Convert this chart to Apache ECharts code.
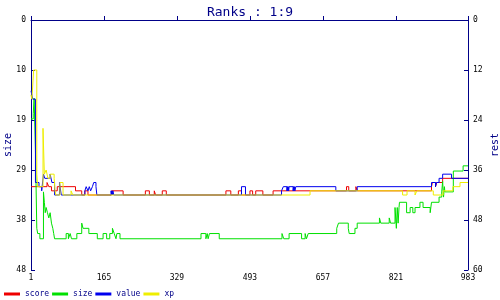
<!DOCTYPE html>
<html><head><meta charset="utf-8">
<script src="https://cdn.jsdelivr.net/npm/echarts@6/dist/echarts.min.js"></script>
<style>html,body{margin:0;padding:0;background:#fff}#c{width:500px;height:300px}</style>
</head><body><div id="c"></div>
<script>
const titleText = 'Ranks : 1:9';
const seriesNames = ['score', 'size', 'value', 'xp'];
const xTicks = [1, 165, 329, 493, 657, 821, 983];
const leftName = 'size';
const rightName = 'rest';

// step data: [x, value] change points (value holds until next point)
const score = [[1,40],[37,39],[41,40],[47,41],[60,40],[101,41],[115,42],[122,41],[129,42],[182,41],[208,42],[258,41],[267,42],[278,41],[281,42],[296,41],[305,42],[439,41],[450,42],[467,41],[474,42],[493,41],[499,42],[506,41],[522,42],[545,41],[710,40],[715,41],[731,40],[734,41],[901,40],[903,39],[910,40],[913,39],[926,38],[983,38]];
const size = [[1,19],[6,18],[8,15],[11,25],[14,40],[16,41],[21,42],[29,33],[31,35],[33,37],[35,36],[38,37],[41,38],[44,37],[47,39],[50,40],[52,41],[54,42],[80,41],[85,42],[89,41],[92,42],[104,41],[115,39],[118,40],[131,41],[150,42],[163,41],[171,42],[178,41],[184,40],[188,41],[192,42],[194,41],[201,42],[383,41],[394,42],[397,41],[399,42],[402,41],[424,42],[565,41],[569,42],[581,41],[609,42],[617,41],[620,42],[624,41],[688,40],[692,39],[714,40],[716,41],[729,40],[734,39],[784,38],[787,39],[806,38],[809,39],[819,36],[822,40],[824,36],[826,39],[828,36],[829,35],[845,37],[853,36],[859,37],[864,36],[875,35],[882,36],[898,37],[901,35],[918,34],[924,33],[926,31],[928,34],[930,32],[931,33],[950,29],[972,28],[983,28]];
const value = [[1,17],[5,19],[11,39],[19,40],[25,41],[29,37],[32,38],[44,37],[48,39],[54,42],[65,39],[69,42],[122,41],[125,40],[129,41],[132,40],[135,41],[139,40],[142,39],[147,40],[149,42],[181,41],[182,42],[183,41],[184,42],[185,41],[187,42],[474,40],[483,42],[564,41],[568,40],[576,41],[577,40],[578,41],[579,40],[580,41],[581,40],[590,41],[591,40],[592,41],[593,40],[594,41],[596,40],[686,41],[734,40],[901,39],[910,40],[912,39],[918,38],[926,37],[946,38],[983,38]];
const xp = [[1,18],[3,19],[7,12],[14,37],[16,40],[28,26],[31,37],[35,36],[39,38],[44,37],[53,38],[55,41],[57,42],[66,39],[73,42],[91,41],[95,42],[628,41],[836,42],[846,41],[864,42],[868,41],[905,42],[927,41],[949,40],[965,39],[983,39]];

const seriesData = [score, size, value, xp];
const seriesAxis = [1, 0, 1, 1];
const colors = ['#ee0000', '#00e000', '#0000ee', '#eeee00'];

const NAVY = '#000088';
const MONO = 'DejaVu Sans Mono';

const chart = echarts.init(document.getElementById('c'), null, {renderer: 'canvas'});
const yAxisBase = {
  type: 'value', inverse: true,
  nameLocation: 'middle', nameRotate: 90, nameMoveOverlap: false,
  nameTextStyle: {color: NAVY, fontSize: 10, fontFamily: MONO},
  axisLine: {show: true, lineStyle: {color: NAVY, width: 1}},
  axisTick: {show: true, inside: true, length: 4, lineStyle: {color: NAVY}},
  axisLabel: {color: '#000', fontSize: 8, fontFamily: MONO, margin: 5,
    formatter: v => String(Math.round(v))},
  splitLine: {show: false}
};
chart.setOption({
  animation: false,
  backgroundColor: '#fff',
  color: colors,
  title: {text: titleText, left: 'center', top: 1,
    textStyle: {color: NAVY, fontSize: 13, fontWeight: 'normal', fontFamily: MONO}},
  grid: {left: 31, right: 32, top: 20, bottom: 30, containLabel: false, outerBoundsMode: 'none'},
  legend: {data: seriesNames, left: 4, top: 290, padding: 0, icon: 'rect',
    itemWidth: 16, itemHeight: 3, itemGap: 3,
    textStyle: {color: NAVY, fontSize: 8, fontFamily: MONO, width: 25}},
  xAxis: {type: 'value', min: 1, max: 983,
    axisLine: {show: true, lineStyle: {color: NAVY, width: 1}},
    axisTick: {show: true, inside: true, length: 4, customValues: xTicks, lineStyle: {color: NAVY}},
    axisLabel: {customValues: xTicks, color: '#000', fontSize: 8, fontFamily: MONO, margin: 4},
    splitLine: {show: false}},
  yAxis: [
    Object.assign({}, yAxisBase, {position: 'left', name: leftName, nameGap: 18, min: 0, max: 48, interval: 9.6}),
    Object.assign({}, yAxisBase, {position: 'right', name: rightName, nameGap: 22, min: 0, max: 60, interval: 12})
  ],
  series: seriesNames.map((n, i) => ({
    name: n, type: 'line', step: 'end', yAxisIndex: seriesAxis[i],
    data: seriesData[i], showSymbol: false, symbol: 'none',
    lineStyle: {width: 1, color: colors[i]}, itemStyle: {color: colors[i]}
  }))
});
</script></body></html>
